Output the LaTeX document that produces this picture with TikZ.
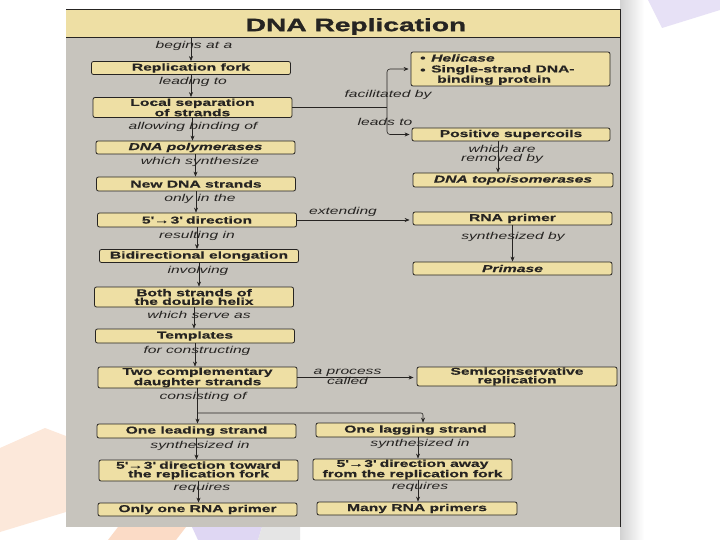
\documentclass[tikz,border=0pt]{standalone}
\usepackage{fontspec}
\setmainfont{Liberation Sans}[FakeStretch=1.57, BoldFeatures={FakeBold=0.5}, BoldItalicFeatures={FakeBold=0.5}]
\newfontfamily\titlefont{Liberation Sans}[FakeStretch=1.57, BoldFeatures={FakeBold=1.4}]
\usetikzlibrary{arrows.meta}
\definecolor{panel}{RGB}{199,196,189}
\definecolor{cream}{RGB}{238,223,164}
\definecolor{ink}{RGB}{38,36,34}
\definecolor{peach}{RGB}{250,205,175}
\definecolor{lav}{RGB}{215,205,240}
\tikzset{
  box/.style={draw=ink, line width=0.8pt, fill=cream, rounded corners=2pt,
    minimum width=199bp, minimum height=14bp, inner sep=0pt,
    font=\fontsize{10}{8.7}\selectfont\bfseries, text=ink, align=center},
  lbl/.style={font=\fontsize{10}{9.5}\selectfont\itshape, text=ink, inner sep=0pt, align=center},
  arr/.style={draw=ink, line width=0.6pt, -{Stealth[length=5bp,width=4bp]}},
  ln/.style={draw=ink, line width=0.6pt},
}
\newcommand{\fivethree}{5\textquotesingle{}\kern0.5pt→\kern0.5pt3\textquotesingle}
\begin{document}
\begin{tikzpicture}[x=1bp,y=-1bp]
\useasboundingbox (0,0) rectangle (720,540);
\fill[white] (0,0) rectangle (720,540);
% faint slide decorations
\fill[peach, opacity=0.45] (0,448) -- (45,428) -- (66,436) -- (66,512) -- (0,532) -- cycle;
\fill[peach, opacity=0.7] (118,527) -- (186,527) -- (176,540) -- (108,540) -- cycle;
\fill[lav, opacity=0.8] (192,527) -- (262,527) -- (258,540) -- (198,540) -- cycle;
\fill[gray!20] (262,527) -- (300,527) -- (300,540) -- (258,540) -- cycle;
\fill[lav, opacity=0.6] (648,0) -- (720,0) -- (720,10) -- (662,28) -- cycle;
% page
\shade[left color=gray!35, right color=white] (620,0) rectangle (644,540);
\fill[panel] (66,9) rectangle (620,527);
\node[fill=cream, minimum width=554bp, minimum height=28bp, inner sep=0pt] (band) at (343,23) {};
\draw[ink, line width=0.5pt] (66,9) -- (620,9);
\draw[ink, line width=0.8pt] (66,37) -- (620,37);
\draw[ink, line width=1pt] (620,9) -- (620,527);
\node[font=\titlefont\fontsize{18}{20}\selectfont\bfseries, text=ink, inner sep=0pt] (title) at (356,26.5) {DNA Replication};

% left column
\node[box, minimum height=13bp] (fork) at (191,68) {Replication fork};
\node[box, minimum height=20bp] (sep) at (192.5,107.5) {Local separation\\of strands};
\node[box, minimum height=13bp, font=\fontsize{10}{8.7}\selectfont\bfseries\itshape] (poly) at (195.5,147.5) {DNA polymerases};
\node[box] (newdna) at (196,184) {New DNA strands};
\node[box] (dir) at (197,220) {5\textquotesingle{}\kern1pt→\kern1pt 3\textquotesingle{} direction};
\node[box, minimum height=13bp] (bidi) at (199,256) {Bidirectional elongation};
\node[box, minimum height=20bp] (both) at (194,297) {Both strands of\\the double helix};
\node[box] (templ) at (195,336) {Templates};
\node[box, minimum height=21bp] (two) at (197.5,377.5) {Two complementary\\daughter strands};
\node[box] (lead) at (196.5,431) {One leading strand};
\node[box, minimum height=21bp] (toward) at (198.5,470.5) {\fivethree{} direction toward\\the replication fork};
\node[box, minimum height=13bp] (only) at (197.5,509.5) {Only one RNA primer};

% right column
\node[box, minimum height=34bp] (heli) at (510.5,69) {};
\node[font=\fontsize{10}{10}\selectfont\bfseries, text=ink, inner sep=0pt, anchor=west] (b1) at (420,59) {•};
\node[font=\fontsize{10}{10}\selectfont\bfseries\itshape, text=ink, inner sep=0pt, anchor=west] (h1) at (431,58) {Helicase};
\node[font=\fontsize{10}{10}\selectfont\bfseries, text=ink, inner sep=0pt, anchor=west] (b2) at (420,71) {•};
\node[font=\fontsize{10}{8.7}\selectfont\bfseries, text=ink, inner sep=0pt, anchor=north west, align=left] (h2) at (431,65) {Single-strand DNA-\\\hspace*{6bp}binding protein};
\node[box, minimum width=198bp, minimum height=13bp] (super) at (511,134.5) {Positive supercoils};
\node[box, minimum width=200bp, font=\fontsize{10}{8.7}\selectfont\bfseries\itshape] (topo) at (513,180) {DNA topoisomerases};
\node[box, minimum height=13bp] (rna) at (512.5,218.5) {RNA primer};
\node[box, minimum height=13bp, font=\fontsize{10}{8.7}\selectfont\bfseries\itshape] (prim) at (512.5,268.5) {Primase};
\node[box, minimum width=200bp, minimum height=19bp] (semi) at (517,376.5) {Semiconservative\\replication};
\node[box] (lag) at (415.5,430) {One lagging strand};
\node[box, minimum height=21bp] (away) at (412.5,469.5) {\fivethree{} direction away\\from the replication fork};
\node[box, minimum width=200bp, minimum height=13bp] (many) at (417,508.5) {Many RNA primers};

% connector coordinates
\coordinate (jx) at (387,0);
\coordinate (sx) at (498,0);
\coordinate (br) at (0,413);
\coordinate (lx) at (423,0);
\coordinate (rx) at (418,0);

% left column arrows
\draw[arr] (band.south -| fork.north) -- (fork.north);
\draw[arr] (fork.south) -- (fork.south |- sep.north);
\draw[arr] (sep.south) -- (sep.south |- poly.north);
\draw[arr] (poly.south) -- (poly.south |- newdna.north);
\draw[arr] (newdna.south) -- (newdna.south |- dir.north);
\draw[arr] (dir.south) -- (dir.south |- bidi.north);
\draw[arr] (bidi.south) -- (bidi.south |- both.north);
\draw[arr] (both.south) -- (both.south |- templ.north);
\draw[arr] (templ.south) -- (templ.south |- two.north);
\draw[arr] (two.south) -- (two.south |- lead.north);
\draw[arr, rounded corners=2pt] (two.south |- br) -| (lag.north -| lx);
\draw[arr] (lead.south) -- (lead.south |- toward.north);
\draw[arr] (toward.south) -- (toward.south |- only.north);
\draw[arr] (lag.south -| rx) -- (away.north -| rx);
\draw[arr] (away.south -| rx) -- (many.north -| rx);

% cross links
\draw[ln] (sep.east) -- (sep.east -| jx);
\draw[arr, rounded corners=3pt] (sep.east -| jx) |- ([xshift=-2bp]heli.west);
\draw[arr, rounded corners=3pt] (sep.east -| jx) |- ([xshift=-2bp]super.west);
\draw[arr] (super.south -| sx) -- (topo.north -| sx);
\draw[arr] (dir.east) -- ([xshift=-3bp]rna.west |- dir.east);
\draw[arr] (rna.south) -- (prim.north);
\draw[arr] (two.east) -- ([xshift=-3bp]semi.west |- two.east);

% labels
\node[lbl] (l1) at (194,46) {begins at a};
\node[lbl] (l2) at (193,82) {leading to};
\node[lbl] (l3) at (193,127) {allowing binding of};
\node[lbl] (l4) at (200,162) {which synthesize};
\node[lbl] (l5) at (200,199) {only in the};
\node[lbl] (l6) at (197,236) {resulting in};
\node[lbl] (l7) at (198,271) {involving};
\node[lbl] (l8) at (199,315) {which serve as};
\node[lbl] (l9) at (197,351) {for constructing};
\node[lbl] (l10) at (203,397) {consisting of};
\node[lbl] (l11) at (200,446) {synthesized in};
\node[lbl] (l12) at (202,488) {requires};
\node[lbl] (l13) at (420,444) {synthesized in};
\node[lbl] (l14) at (420,487) {requires};
\node[lbl] (r1) at (388,95) {facilitated by};
\node[lbl] (r2) at (385,122) {leads to};
\node[lbl] (r3) at (502,154.5) {which are\\removed by};
\node[lbl] (r4) at (343,212) {extending};
\node[lbl] (r5) at (513,237) {synthesized by};
\node[lbl] (r6) at (347.5,377) {a process\\called};
\end{tikzpicture}
\end{document}
